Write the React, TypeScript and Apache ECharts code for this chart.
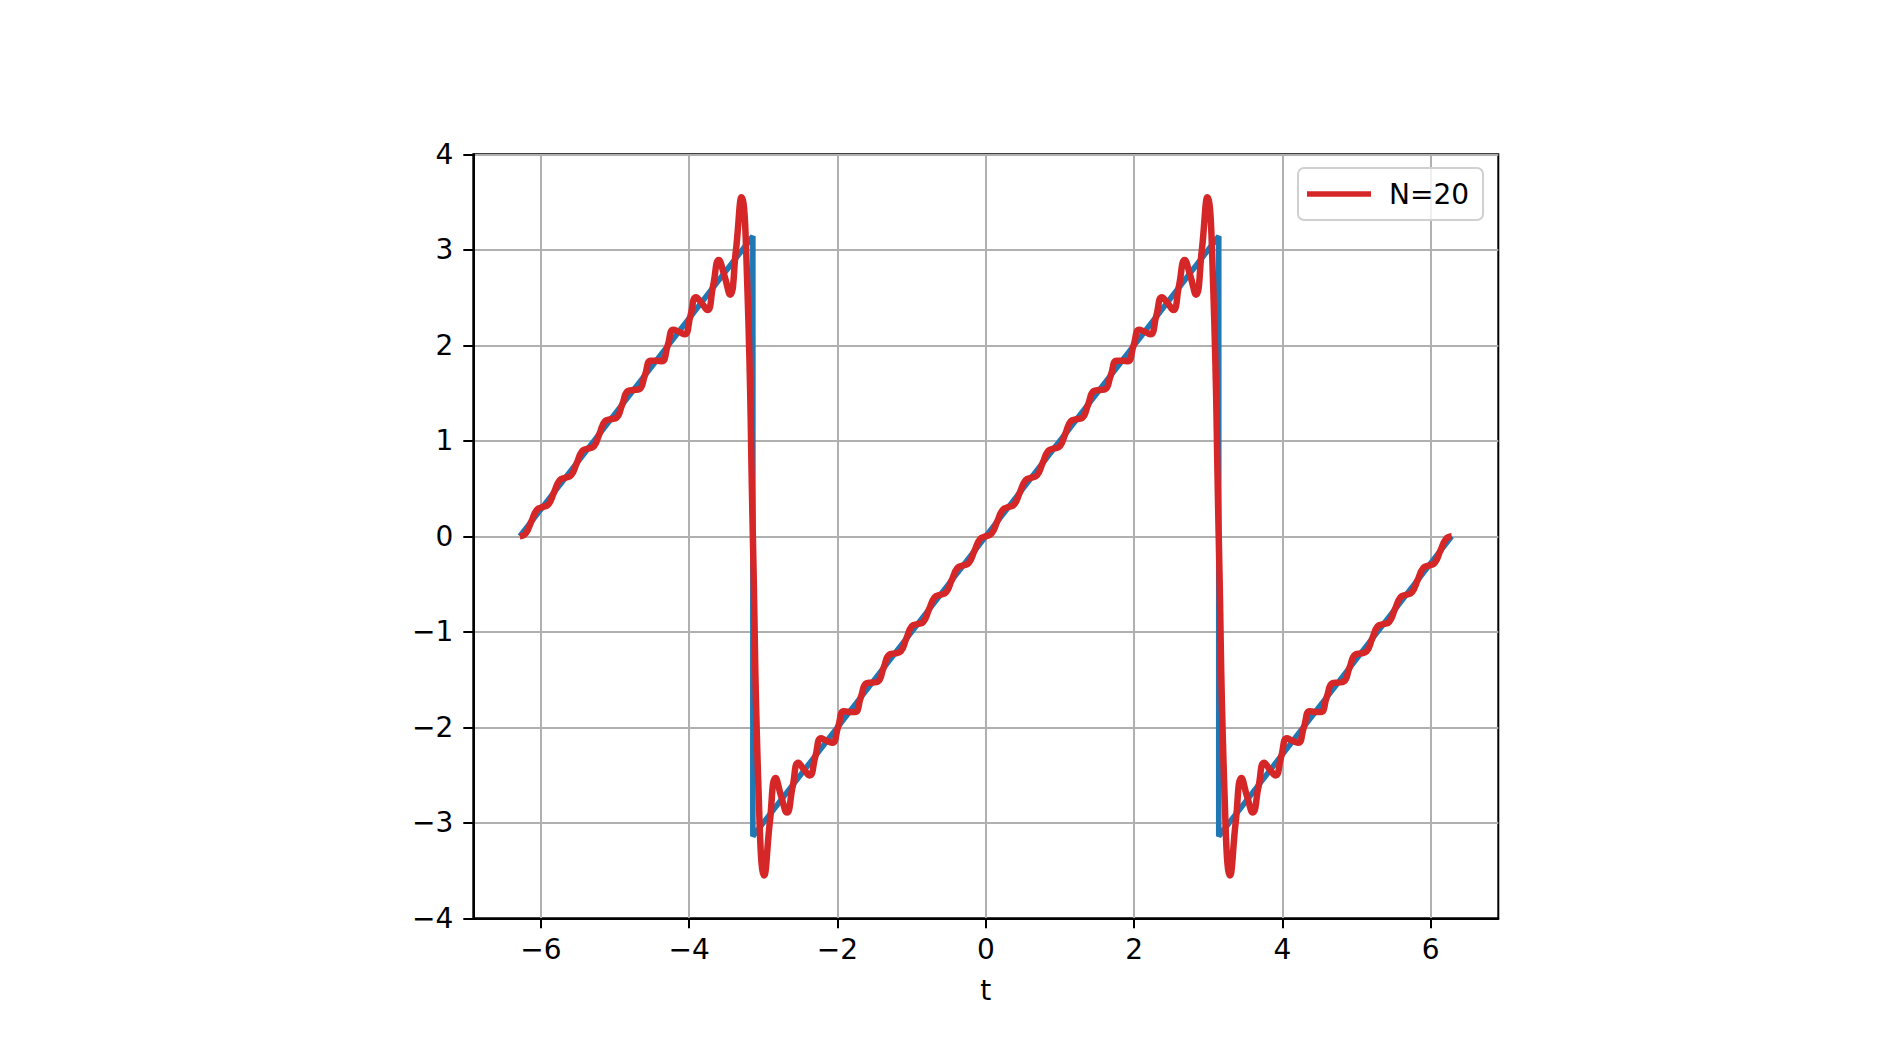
import React, { useEffect, useRef } from "react";
import * as echarts from "echarts";

// Sample positions t (read along the x axis), from -2π to 2π
const tValues: number[] = [
  -6.2832, -6.2066, -6.1299, -6.0533, -5.9767, -5.9001, -5.8234, -5.7468, -5.6702, -5.5936,
  -5.5169, -5.4403, -5.3637, -5.2871, -5.2104, -5.1338, -5.0572, -4.9806, -4.904, -4.8273,
  -4.7507, -4.6741, -4.5975, -4.5208, -4.4442, -4.3676, -4.291, -4.2143, -4.1377, -4.0611,
  -3.9845, -3.9078, -3.8312, -3.7546, -3.678, -3.6013, -3.5247, -3.4481, -3.3715, -3.2948,
  -3.2182, -3.1416,
  -3.065, -2.9883, -2.9117, -2.8351, -2.7585, -2.6818, -2.6052, -2.5286, -2.452, -2.3754,
  -2.2987, -2.2221, -2.1455, -2.0689, -1.9922, -1.9156, -1.839, -1.7624, -1.6857, -1.6091,
  -1.5325, -1.4559, -1.3792, -1.3026, -1.226, -1.1494, -1.0727, -0.9961, -0.9195, -0.8429,
  -0.7662, -0.6896, -0.613, -0.5364, -0.4597, -0.3831, -0.3065, -0.2299, -0.1532, -0.0766,
  0,
  0.0766, 0.1532, 0.2299, 0.3065, 0.3831, 0.4597, 0.5364, 0.613, 0.6896, 0.7662,
  0.8429, 0.9195, 0.9961, 1.0727, 1.1494, 1.226, 1.3026, 1.3792, 1.4559, 1.5325,
  1.6091, 1.6857, 1.7624, 1.839, 1.9156, 1.9922, 2.0689, 2.1455, 2.2221, 2.2987,
  2.3754, 2.452, 2.5286, 2.6052, 2.6818, 2.7585, 2.8351, 2.9117, 2.9883, 3.065,
  3.1416, 3.2182, 3.2948, 3.3715, 3.4481, 3.5247, 3.6013, 3.678, 3.7546, 3.8312,
  3.9078, 3.9845, 4.0611, 4.1377, 4.2143, 4.291, 4.3676, 4.4442, 4.5208, 4.5975,
  4.6741, 4.7507, 4.8273, 4.904, 4.9806, 5.0572, 5.1338, 5.2104, 5.2871, 5.3637,
  5.4403, 5.5169, 5.5936, 5.6702, 5.7468, 5.8234, 5.9001, 5.9767, 6.0533, 6.1299,
  6.2066, 6.2832,
];

// Partial Fourier sum with N=20 (red curve), read at the t positions above
const fourierN20: number[] = [
  0, 0.028, 0.153, 0.279, 0.306, 0.333, 0.46, 0.587, 0.613, 0.638,
  0.766, 0.896, 0.919, 0.941, 1.073, 1.207, 1.226, 1.241, 1.379, 1.521,
  1.532, 1.539, 1.686, 1.839, 1.839, 1.833, 1.996, 2.162, 2.141, 2.115,
  2.305, 2.504, 2.442, 2.37, 2.622, 2.893, 2.727, 2.53, 2.984, 3.551,
  2.665, 0,
  -2.665, -3.551, -2.984, -2.53, -2.727, -2.893, -2.622, -2.37, -2.442, -2.504,
  -2.305, -2.115, -2.141, -2.162, -1.996, -1.833, -1.839, -1.839, -1.686, -1.539,
  -1.532, -1.521, -1.379, -1.241, -1.226, -1.207, -1.073, -0.941, -0.919, -0.896,
  -0.766, -0.638, -0.613, -0.587, -0.46, -0.333, -0.306, -0.279, -0.153, -0.028,
  0,
  0.028, 0.153, 0.279, 0.306, 0.333, 0.46, 0.587, 0.613, 0.638, 0.766,
  0.896, 0.919, 0.941, 1.073, 1.207, 1.226, 1.241, 1.379, 1.521, 1.532,
  1.539, 1.686, 1.839, 1.839, 1.833, 1.996, 2.162, 2.141, 2.115, 2.305,
  2.504, 2.442, 2.37, 2.622, 2.893, 2.727, 2.53, 2.984, 3.551, 2.665,
  0, -2.665, -3.551, -2.984, -2.53, -2.727, -2.893, -2.622, -2.37, -2.442,
  -2.504, -2.305, -2.115, -2.141, -2.162, -1.996, -1.833, -1.839, -1.839, -1.686,
  -1.539, -1.532, -1.521, -1.379, -1.241, -1.226, -1.207, -1.073, -0.941, -0.919,
  -0.896, -0.766, -0.638, -0.613, -0.587, -0.46, -0.333, -0.306, -0.279, -0.153,
  -0.028, 0,
];

// Exact sawtooth (blue), corner points
const sawT: number[] = [-6.2832, -3.1416, -3.1416, 3.1416, 3.1416, 6.2832];
const sawY: number[] = [0, 3.1416, -3.1416, 3.1416, -3.1416, 0];

const xTicks: number[] = [-6, -4, -2, 0, 2, 4, 6];
const yTicks: number[] = [-4, -3, -2, -1, 0, 1, 2, 3, 4];
const legendLabel = "N=20";
const xAxisName = "t";

const FONT = "DejaVu Sans";
const minusFmt = (v: number) => String(v).replace("-", "\u2212");

export default function App() {
  const ref = useRef<HTMLDivElement>(null);
  useEffect(() => {
    if (!ref.current) return;
    const chart = echarts.init(ref.current, null, { renderer: "svg" });
    chart.setOption({
      animation: false,
      backgroundColor: "#ffffff",
      grid: {
        left: 473.3,
        right: 391.7,
        top: 154.3,
        bottom: 144.7,
        show: true,
        borderColor: "#000000",
        borderWidth: 2,
        backgroundColor: "transparent",
      },
      legend: {
        data: [legendLabel],
        left: 1298,
        top: 168,
        orient: "vertical",
        icon: "rect",
        itemWidth: 64,
        itemHeight: 5.5,
        padding: [11, 14, 11, 9],
        backgroundColor: "rgba(255,255,255,0.8)",
        borderColor: "#d0d0d0",
        borderWidth: 2,
        borderRadius: 6,
        selectedMode: false,
        textStyle: {
          fontFamily: FONT,
          fontSize: 28,
          color: "#000",
          padding: [0, 0, 0, 13],
          lineHeight: 30,
        },
      },
      xAxis: {
        type: "value",
        min: -6.912,
        max: 6.912,
        minInterval: 2,
        maxInterval: 2,
        name: xAxisName,
        nameLocation: "middle",
        nameGap: 58,
        nameTextStyle: { fontFamily: FONT, fontSize: 28, color: "#000" },
        axisLine: { show: true, onZero: false, lineStyle: { color: "#000", width: 2 } },
        axisTick: {
          show: true,
          length: 10,
          inside: false,
          customValues: xTicks,
          lineStyle: { color: "#000", width: 2 },
        },
        axisLabel: {
          customValues: xTicks,
          margin: 17,
          fontFamily: FONT,
          fontSize: 28,
          color: "#000",
          formatter: minusFmt,
        },
        splitLine: { show: true, lineStyle: { color: "#b0b0b0", width: 2 } },
      },
      yAxis: {
        type: "value",
        min: yTicks[0],
        max: yTicks[yTicks.length - 1],
        interval: 1,
        axisLine: { show: true, onZero: false, lineStyle: { color: "#000", width: 2 } },
        axisTick: { show: true, length: 10, inside: false, lineStyle: { color: "#000", width: 2 } },
        axisLabel: {
          margin: 20,
          fontFamily: FONT,
          fontSize: 28,
          color: "#000",
          formatter: minusFmt,
        },
        splitLine: { show: true, lineStyle: { color: "#b0b0b0", width: 2 } },
      },
      series: [
        {
          name: "sawtooth",
          type: "line",
          data: sawT.map((t, i) => [t, sawY[i]]),
          showSymbol: false,
          symbol: "none",
          color: "#1f77b4",
          lineStyle: { color: "#1f77b4", width: 5.6 },
          z: 2,
        },
        {
          name: legendLabel,
          type: "line",
          data: tValues.map((t, i) => [t, fourierN20[i]]),
          showSymbol: false,
          symbol: "none",
          smooth: 0.5,
          color: "#d62728",
          lineStyle: { color: "#d62728", width: 6.5 },
          z: 3,
        },
      ],
    });
    return () => chart.dispose();
  }, []);
  return (
    <div
      ref={ref}
      style={{ position: "absolute", left: 0, top: 0, width: 1890, height: 1063 }}
    />
  );
}
